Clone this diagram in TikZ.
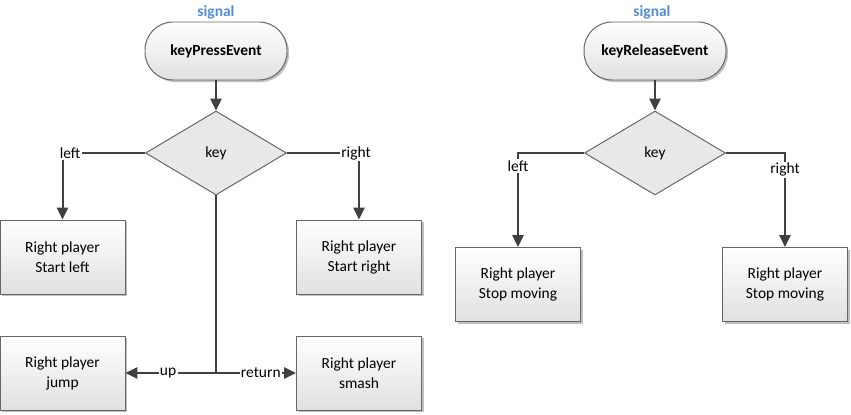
\documentclass[tikz,border=0pt]{standalone}
\usepackage{fontspec}
\setmainfont{Carlito}
\usetikzlibrary{shapes.geometric,arrows.meta,shadows}
\definecolor{signalblue}{RGB}{84,141,212}
\definecolor{linegray}{RGB}{64,64,64}
\begin{document}
\begin{tikzpicture}[font=\fontsize{11}{14.2}\selectfont,
  box/.style={draw=linegray!80, line width=0.7pt, top color=white, bottom color=black!12,
    minimum width=3.125cm, minimum height=1.85cm, align=center,
    drop shadow={shadow xshift=0.05cm, shadow yshift=-0.05cm, fill=black, opacity=0.25}},
  term/.style={box, rounded corners=0.7cm, minimum width=3.55cm, minimum height=1.45cm,
    font=\fontsize{11}{14.2}\selectfont\bfseries},
  decision/.style={diamond, draw=linegray!80, line width=0.7pt, fill=black!9,
    minimum width=3.525cm, minimum height=2.1cm},
  sig/.style={text=signalblue, font=\fontsize{11}{14.2}\selectfont\bfseries},
  flow/.style={draw=linegray, line width=0.05cm},
  arr/.style={flow, -{Triangle[length=0.3cm,width=0.28cm]}},
  lbl/.style={fill=white, inner sep=1pt}]
\useasboundingbox (0,0) rectangle (21.275,10.35);
%key press
\node[sig] (sig1) at (5.4,10.05) {signal};
\node[term] (press) at (5.4,9.075) {keyPressEvent};
\node[decision] (key1) at (5.4,6.525) {key};
\node[box] (sleft) at (1.5625,3.925) {Right player\\Start left}; \node[box] (sright) at (8.975,3.925) {Right player\\Start right};
\node[box] (jump) at (1.5625,1.025) {Right player\\jump}; \node[box] (smash) at (8.975,1.025) {Right player\\smash};
\coordinate (jn) at (5.4,1.025);
\draw[arr] (press) -- (key1);
\draw[arr] (key1.west) -| node[lbl,pos=0.5,xshift=0.19cm] {left} (sleft.north);
\draw[arr] (key1.east) -| node[lbl,pos=0.5,xshift=-0.075cm] {right} (sright.north);
\draw[flow] (key1.south) -- (jn);
\draw[arr] (jn) -- node[lbl,pos=0.53] {up} (jump.east);
\draw[arr] (jn) -- node[lbl,pos=0.56] {return} (smash.west);
%key release
\node[sig] (sig2) at (16.3,10.05) {signal};
\node[term] (release) at (16.375,9.075) {keyReleaseEvent};
\node[decision] (key2) at (16.375,6.525) {key};
\node[box] (stopl) at (12.95,3.2375) {Right player\\Stop moving}; \node[box] (stopr) at (19.625,3.2375) {Right player\\Stop moving};
\draw[arr] (release) -- (key2);
\draw[arr] (key2.west) -| node[lbl,pos=0.57] {left} (stopl.north);
\draw[arr] (key2.east) -| node[lbl,pos=0.59] {right} (stopr.north);
\end{tikzpicture}
\end{document}
